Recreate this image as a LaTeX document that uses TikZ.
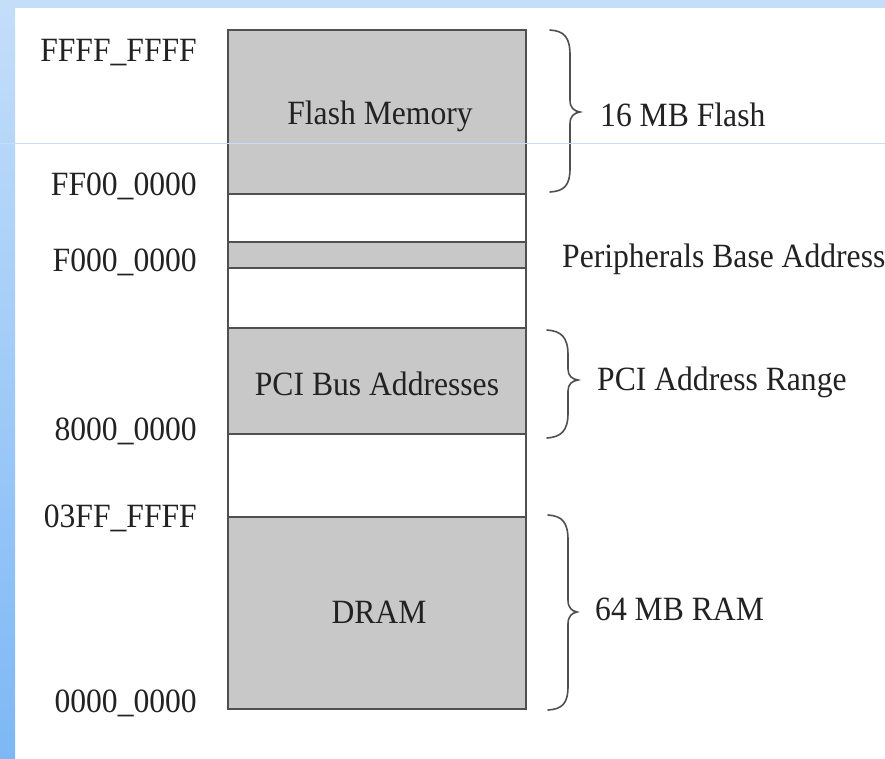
\documentclass[tikz,border=0pt]{standalone}
\usepackage{fontspec}
\setmainfont{Liberation Serif}[FakeStretch=0.93]
\definecolor{segfill}{HTML}{C8C8C8}
\definecolor{segline}{HTML}{505050}
\definecolor{bgtop}{HTML}{C4DEFA}
\definecolor{bgbot}{HTML}{7DB8F5}
\definecolor{txt}{HTML}{222222}
\begin{document}
\begin{tikzpicture}[x=1pt,y=-1pt,
  seg/.style={draw=segline, line width=1.6pt, fill=segfill, minimum width=298pt, inner sep=0pt, outer sep=0pt},
  gap/.style={seg, fill=white},
  lbl/.style={font=\fontsize{34}{40}\selectfont, text=txt, inner sep=0pt},
  bracepath/.style={draw=segline, line width=1.6pt, line cap=round}]
% background
\fill[white] (0,0) rectangle (885,758);
\useasboundingbox (0,0) rectangle (885,758);
\fill[bgtop] (0,0) rectangle (885,8);
\shade[top color=bgtop, bottom color=bgbot] (0,0) rectangle (15,758);
% memory segments
\node[seg, minimum height=164pt] (flash) at (377,112) {};
\node[gap, minimum height=48pt] (gapa) at (377,218) {};
\node[seg, minimum height=26pt] (periph) at (377,255) {};
\node[gap, minimum height=60pt] (gapb) at (377,298) {};
\node[seg, minimum height=106pt] (pci) at (377,381) {};
\node[gap, minimum height=83pt] (gapc) at (377,475.5) {};
\node[seg, minimum height=192pt] (dram) at (377,613) {};
% segment labels
\node[lbl, anchor=base] (tflash) at (380,124) {Flash Memory};
\node[lbl, anchor=base] (tpci) at (377,395) {PCI Bus Addresses};
\node[lbl, anchor=base] (tdram) at (379,623) {DRAM};
% addresses
\node[lbl, anchor=base east] (a1) at (197,61) {FFFF\_FFFF};
\node[lbl, anchor=base east] (a2) at (197,195) {FF00\_0000};
\node[lbl, anchor=base east] (a3) at (197,271) {F000\_0000};
\node[lbl, anchor=base east] (a4) at (197,440) {8000\_0000};
\node[lbl, anchor=base east] (a5) at (197,527) {03FF\_FFFF};
\node[lbl, anchor=base east] (a6) at (197,712) {0000\_0000};
% braces
\draw[bracepath] (550,30) .. controls (564,31) and (570,37) .. (570,55)
  -- (570,100) .. controls (570,108) and (574,111) .. (580,112)
  .. controls (574,113) and (570,116) .. (570,124)
  -- (570,168) .. controls (570,186) and (564,191) .. (550,192);
\draw[bracepath] (547,330) .. controls (561,331) and (568,337) .. (568,355)
  -- (568,369) .. controls (568,376) and (572,379) .. (578,380)
  .. controls (572,381) and (568,384) .. (568,391)
  -- (568,413) .. controls (568,431) and (561,437) .. (547,438);
\draw[bracepath] (548,515) .. controls (562,516) and (568,522) .. (568,540)
  -- (568,600) .. controls (568,608) and (572,611) .. (577,612)
  .. controls (572,613) and (568,616) .. (568,624)
  -- (568,686) .. controls (568,704) and (562,709) .. (548,710);
% range labels
\node[lbl, anchor=base west] (r1) at (600,126) {16 MB Flash};
\node[lbl, anchor=base west] (r2) at (562,267) {Peripherals Base Address};
\node[lbl, anchor=base west] (r3) at (597,390) {PCI Address Range};
\node[lbl, anchor=base west] (r4) at (595,620) {64 MB RAM};
% faint scan line
\draw[bgtop, line width=0.8pt] (0,143) -- (885,143);
\end{tikzpicture}
\end{document}
